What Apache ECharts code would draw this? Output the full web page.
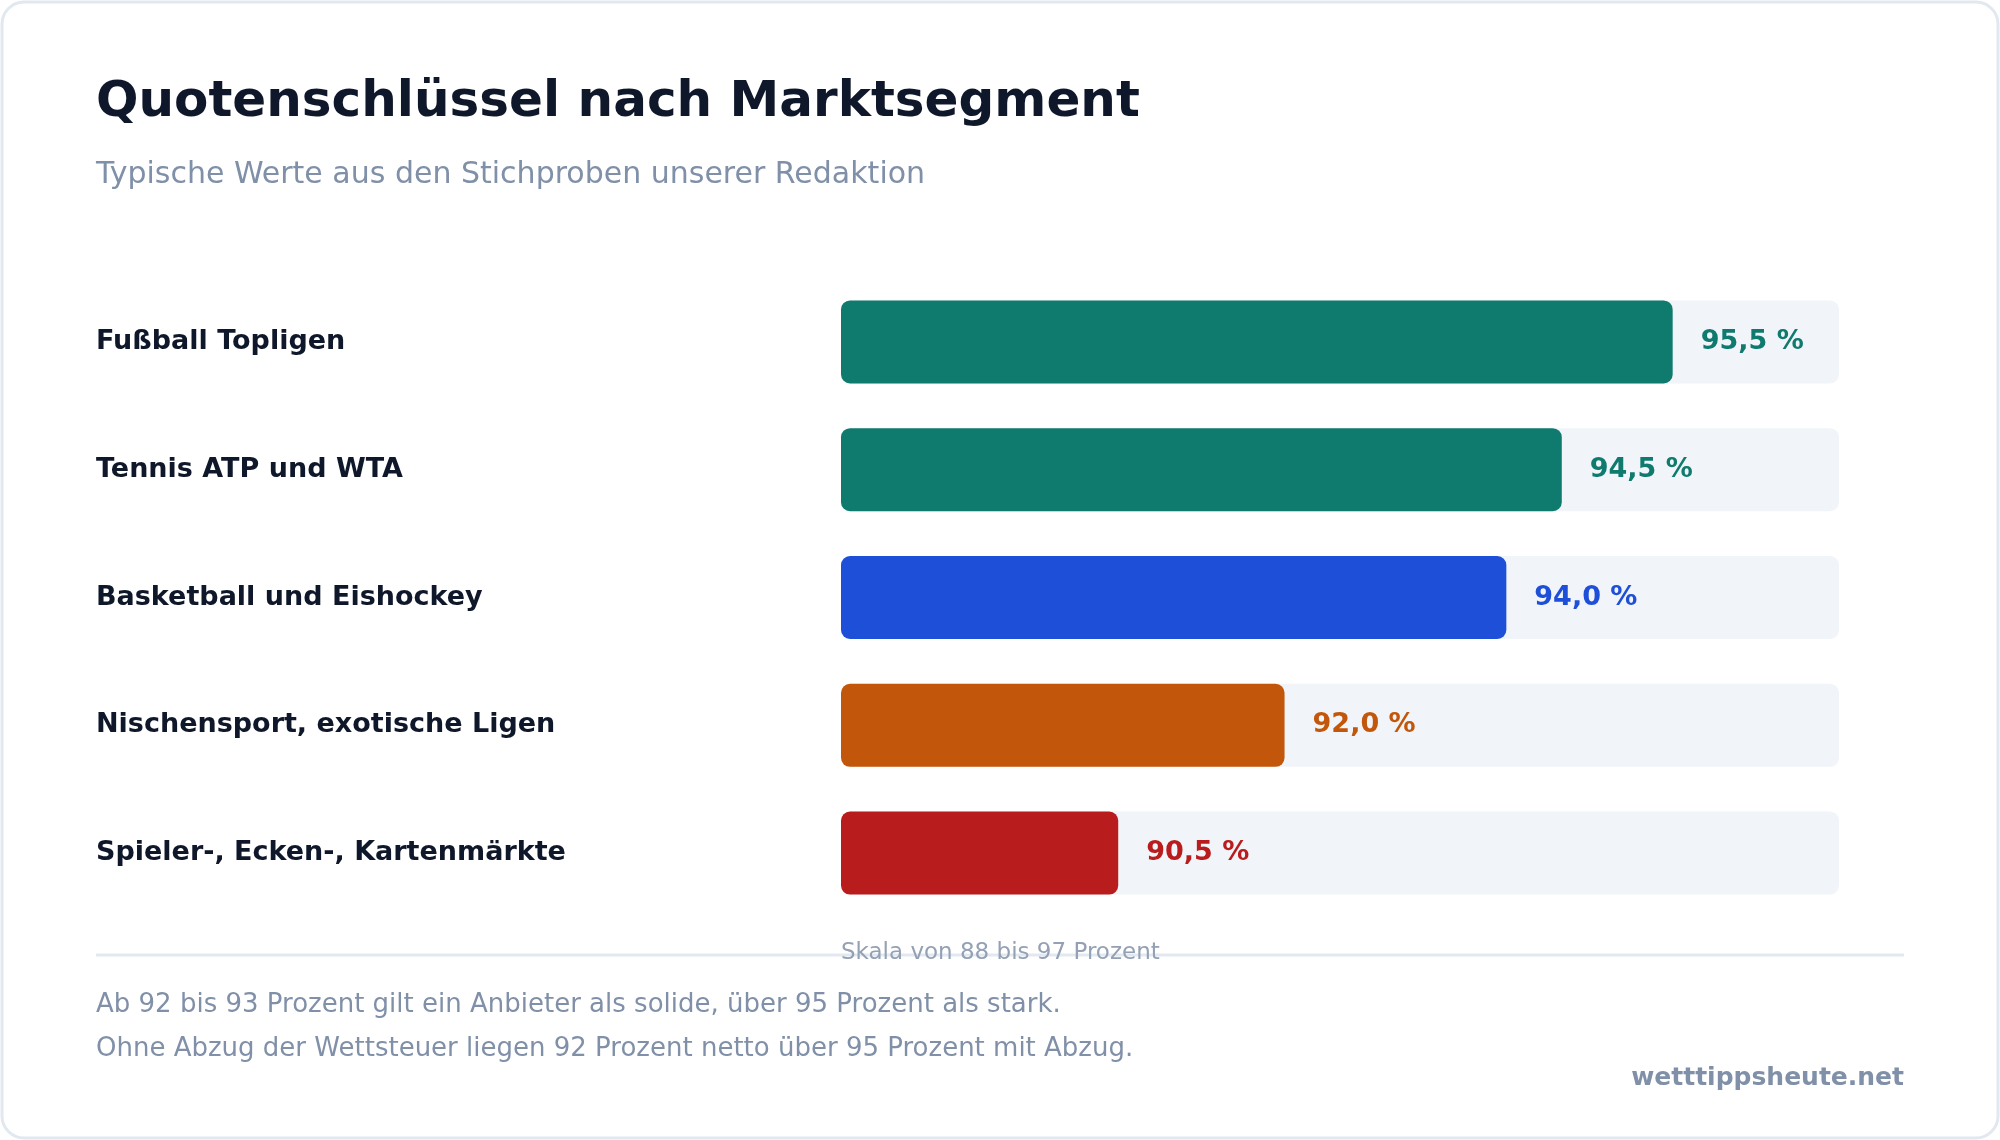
<!DOCTYPE html>
<html><head><meta charset="utf-8">
<script src="https://cdn.jsdelivr.net/npm/echarts@6/dist/echarts.min.js"></script>
<style>html,body{margin:0;padding:0;background:#fff}#c{width:2000px;height:1140px}</style>
</head><body><div id="c"></div>
<script>
const categories = ["Fußball Topligen","Tennis ATP und WTA","Basketball und Eishockey","Nischensport, exotische Ligen","Spieler-, Ecken-, Kartenmärkte"];
const values = [95.5, 94.5, 94.0, 92.0, 90.5];
const colors = ["#0f7a6e","#0f7a6e","#1e4fd8","#c2570b","#b91c1c"];
const scaleMin = 88, scaleMax = 97;
const F = "DejaVu Sans, sans-serif";
const chart = echarts.init(document.getElementById('c'));
chart.setOption({
  animation:false,
  graphic:[
    {type:'rect',shape:{x:2,y:2,width:1996,height:1136,r:22},style:{fill:'#fff',stroke:'#e2e8f0',lineWidth:3},z:-10},
    {type:'text',left:96,top:78,style:{text:'Quotenschlüssel nach Marktsegment',font:'bold 50px '+F,fill:'#0f172a'}},
    {type:'text',left:96,top:160,style:{text:'Typische Werte aus den Stichproben unserer Redaktion',font:'30px '+F,fill:'#8090a8'}},
    {type:'line',shape:{x1:96,y1:955,x2:1904,y2:955},style:{stroke:'#e2e8f0',lineWidth:3}},
    {type:'text',left:841,top:942,style:{text:'Skala von 88 bis 97 Prozent',font:'23px '+F,fill:'#94a0b4'}},
    {type:'text',left:96,top:992,style:{text:'Ab 92 bis 93 Prozent gilt ein Anbieter als solide, über 95 Prozent als stark.',font:'26px '+F,fill:'#8090a8'}},
    {type:'text',left:96,top:1036,style:{text:'Ohne Abzug der Wettsteuer liegen 92 Prozent netto über 95 Prozent mit Abzug.',font:'26px '+F,fill:'#8090a8'}},
    {type:'text',right:96,top:1066,style:{text:'wetttippsheute.net',font:'bold 25px '+F,fill:'#8090a8'}}
  ],
  grid:{left:841,right:161,top:278,bottom:223},
  xAxis:{type:'value',min:scaleMin,max:scaleMax,show:false},
  yAxis:{type:'category',inverse:true,data:categories,axisLine:{show:false},axisTick:{show:false},
    axisLabel:{margin:745,align:'left',font:'',fontFamily:F,fontWeight:'bold',fontSize:27,color:'#0f172a',padding:[0,0,10,0]}},
  series:[{type:'bar',barWidth:83,
    data:values.map((v,i)=>({value:v,itemStyle:{color:colors[i],borderRadius:9},
      label:{color:colors[i]}})),
    showBackground:true,backgroundStyle:{color:'#f1f4f8',borderRadius:9},
    label:{show:true,position:'right',distance:28,fontFamily:F,fontWeight:'bold',fontSize:27,
      padding:[8,0,0,0],
      formatter:p=>p.value.toFixed(1).replace('.',',')+' %'}}]
});
</script></body></html>
